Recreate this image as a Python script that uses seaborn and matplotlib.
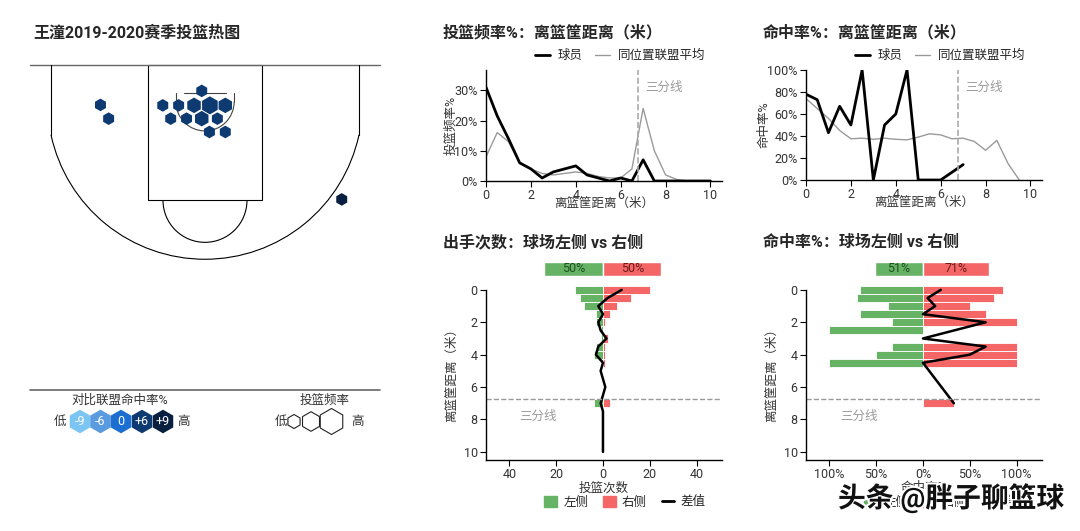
import numpy as np
import pandas as pd
import matplotlib
matplotlib.use("Agg")
import matplotlib.pyplot as plt
import matplotlib.patheffects as pe
from matplotlib.patches import Rectangle, Arc
from matplotlib.lines import Line2D
from matplotlib.patches import Patch
import seaborn as sns

# ---- data ----
# shot chart hexes (metres, x from centre of basket line, y from baseline)
hex_x = [-4.48, -4.13, -0.14, -1.81, -1.13, -0.47, 0.21, 0.87, -1.47, -0.79, -0.14, 0.53, 0.19, 0.87, 5.86]
hex_y = [1.71, 2.30, 1.11, 1.73, 1.73, 1.73, 1.73, 1.73, 2.30, 2.30, 2.30, 2.30, 2.87, 2.87, 5.76]
hex_freq = [1, 1, 1, 1, 1, 2, 3, 2, 1, 1, 2, 1, 1, 1, 1]
hex_diff = [6, 6, 6, 6, 6, 6, 6, 6, 6, 6, 6, 6, 6, 6, 9]

diff_levels = [-9, -6, 0, 6, 9]
diff_labels = ["-9", "-6", "0", "+6", "+9"]
diff_colors = ["#7cc5f2", "#5a9be0", "#1c6fd1", "#0e3a72", "#081f40"]

# distance curves (0 - 10 m, step 0.5)
dist = [0, 0.5, 1, 1.5, 2, 2.5, 3, 3.5, 4, 4.5, 5, 5.5, 6, 6.5, 7, 7.5, 8, 8.5, 9, 9.5, 10]
player_freq = [31, 21.5, 14, 6, 4, 1, 3, 4, 5, 2, 1, 0, 1, 0, 7, 0, 0, 0, 0, 0, 0]
league_freq = [8, 16, 13, 6, 4, 2.5, 2, 2.5, 3, 2.5, 1.5, 1, 1, 4, 24, 10, 2, 0.5, 0, 0, 0]
player_fg = [78, 73, 43, 67, 50, 100, 0, 50, 60, 100, 0, 0, 0, np.nan, 14,
             np.nan, np.nan, np.nan, np.nan, np.nan, np.nan]
league_fg = [74, 65, 56, 45, 37.5, 38, 37, 38, 37, 36.5, 39, 42, 41, 37.5, 38,
             35, 27, 36, 15, 0, np.nan]

# left vs right side
left_cnt = [12, 10, 8, 3, 3, 1, 1, 3, 4, 1, 0, 0, 0, 0, 4, 0, 0, 0, 0, 0, 0]
right_cnt = [20, 12, 6, 3, 1, 0, 2, 1, 1, 1, 0, 0, 0, 0, 3, 0, 0, 0, 0, 0, 0]
diff_cnt = [8, 2, -2, 0, -2, -1, 1.5, -2, -3, 0, -1, 0, 1, 0, -1, 0, 0, 0, 0, 0, 0]
left_pct = [67, 70, 37, 67, 33, 100, np.nan, 33, 50, 100, np.nan, np.nan, np.nan, np.nan, np.nan,
            np.nan, np.nan, np.nan, np.nan, np.nan, np.nan]
right_pct = [86, 76, 50, 67, 100, np.nan, np.nan, 100, 100, 100, np.nan, np.nan, np.nan, np.nan, 33,
             np.nan, np.nan, np.nan, np.nan, np.nan, np.nan]
diff_pct = [19, 5, 13, 0, 67, np.nan, 0, 67, 50, 0, np.nan, np.nan, np.nan, np.nan, 33,
            np.nan, np.nan, np.nan, np.nan, np.nan, np.nan]
share_cnt = [50, 50]
share_pct = [51, 71]

GREEN = "#66b366"
RED = "#f56767"
GRAY = "#9a9a9a"

sns.set_theme(style="white")
plt.rcParams['font.family'] = ['Roboto', 'Noto Sans CJK SC']
plt.rcParams['axes.unicode_minus'] = False

W, H = 1080, 531
fig = plt.figure(figsize=(10.8, 5.31), dpi=100)


def px_axes(x0, y0, x1, y1):
    return fig.add_axes([x0 / W, 1 - y1 / H, (x1 - x0) / W, (y1 - y0) / H])


def style_axes(ax):
    for s in ["top", "right"]:
        ax.spines[s].set_visible(False)
    for s in ["left", "bottom"]:
        ax.spines[s].set_color("black")
        ax.spines[s].set_linewidth(1)
    ax.tick_params(bottom=True, left=True, length=4, width=0.8, labelsize=9,
                   colors="black", labelcolor="#333333", pad=2)


# ---- titles ----
fig.text(33 / W, 1 - 33 / H, "王潼2019-2020赛季投篮热图", fontsize=11.5, weight="bold", va="center")
fig.text(443 / W, 1 - 33 / H, "投篮频率%：离篮筐距离（米）", fontsize=11.5, weight="bold", va="center")
fig.text(763 / W, 1 - 33 / H, "命中率%：离篮筐距离（米）", fontsize=11.5, weight="bold", va="center")
fig.text(443 / W, 1 - 242 / H, "出手次数：球场左侧 vs 右侧", fontsize=11.5, weight="bold", va="center")
fig.text(763 / W, 1 - 242 / H, "命中率%：球场左侧 vs 右侧", fontsize=11.5, weight="bold", va="center")

# ---- court ----
axc = px_axes(30, 65, 380, 275)
axc.set_xlim(-7.5, 7.5)
axc.set_ylim(9, 0)
axc.axis("off")
lc = dict(color="black", lw=0.8, clip_on=False)
axc.plot([-7.5, 7.5], [0, 0], color="#666666", lw=1, clip_on=False)
axc.plot([-6.6, -6.6], [0, 2.99], **lc)
axc.plot([6.6, 6.6], [0, 2.99], **lc)
axc.add_patch(Arc((0, 1.575), 13.5, 13.5, theta1=12.1, theta2=167.9, **lc))
axc.add_patch(Rectangle((-2.45, 0), 4.9, 5.8, fill=False, **lc))
axc.add_patch(Arc((0, 5.8), 3.6, 3.6, theta1=0, theta2=180, **lc))
axc.add_patch(Arc((0, 1.575), 2.5, 2.5, theta1=0, theta2=180, lw=0.8, color="#444444"))
axc.plot([-1.25, -1.25], [1.2, 1.575], color="#444444", lw=0.8)
axc.plot([1.25, 1.25], [1.2, 1.575], color="#444444", lw=0.8)
axc.plot([-0.9, 0.9], [1.2, 1.2], color="#444444", lw=0.8)

cmap = dict(zip(diff_levels, diff_colors))
hex_df = pd.DataFrame({"x": hex_x, "y": hex_y, "freq": hex_freq, "diff": hex_diff})
axc.scatter(hex_df["x"], hex_df["y"], s=40 + 43 * hex_df["freq"],
            c=[cmap[d] for d in hex_df["diff"]], marker="h", linewidths=0, zorder=3)

# ---- court legend ----
axl = px_axes(30, 380, 380, 440)
axl.set_xlim(30, 380)
axl.set_ylim(440, 380)
axl.axis("off")
axl.plot([30, 380], [390, 390], color="#666666", lw=1.2, clip_on=False)
axl.text(120, 400, "对比联盟命中率%", fontsize=9, ha="center", va="center", color="#333333")
lx = [80, 100.5, 121, 142, 163]
axl.scatter(lx, [421.5] * 5, s=290, marker="h", c=diff_colors, linewidths=0)
for x, t in zip(lx, diff_labels):
    axl.text(x, 421.5, t, color="white", fontsize=9, ha="center", va="center")
axl.text(60, 421.5, "低", fontsize=9, ha="center", va="center", color="#333333")
axl.text(184, 421.5, "高", fontsize=9, ha="center", va="center", color="#333333")
axl.text(325, 400, "投篮频率", fontsize=9, ha="center", va="center", color="#333333")
axl.scatter([294, 311, 331.5], [421.5] * 3, s=[102, 199, 350], marker="h",
            facecolors="white", edgecolors="#222222", linewidths=0.8)
axl.text(281, 421.5, "低", fontsize=9, ha="center", va="center", color="#333333")
axl.text(357, 421.5, "高", fontsize=9, ha="center", va="center", color="#333333")

# ---- top distance charts ----
freq_df = pd.DataFrame({"dist": dist, "player": player_freq, "league": league_freq})
fg_df = pd.DataFrame({"dist": dist, "player": player_fg, "league": league_fg})

ax1 = px_axes(486, 70, 721.7, 181)
ax2 = px_axes(806, 70, 1041.7, 180)
for ax, df, top, lab, ticks in [(ax1, freq_df, 36.7, "投篮频率%", [0, 10, 20, 30]),
                                (ax2, fg_df, 100, "命中率%", [0, 20, 40, 60, 80, 100])]:
    style_axes(ax)
    d = df[["dist", "league"]].dropna()
    sns.lineplot(x=d["dist"], y=d["league"], ax=ax, color=GRAY, lw=1, label="同位置联盟平均")
    d = df[["dist", "player"]].dropna()
    sns.lineplot(x=d["dist"], y=d["player"], ax=ax, color="black", lw=2, label="球员")
    ax.axvline(6.75, color="#aaaaaa", ls="--", lw=1.2)
    ax.text(7.1, 0.84, "三分线", transform=ax.get_xaxis_transform(), color=GRAY, fontsize=9, va="center")
    ax.set_xlim(0, 10.5)
    ax.set_ylim(0, top)
    ax.set_xticks([0, 2, 4, 6, 8, 10])
    ax.set_yticks(ticks)
    ax.set_yticklabels([f"{t}%" for t in ticks])
    ax.set_xlabel("离篮筐距离（米）", fontsize=9, labelpad=-4, color="#333333")
    ax.set_ylabel(lab, fontsize=9, labelpad=-2, color="#333333")
    h, l = ax.get_legend_handles_labels()
    ax.legend(h[::-1], l[::-1], loc="center", bbox_to_anchor=(0.57, 1.13), ncol=2, frameon=False,
              fontsize=9, handlelength=1.2, columnspacing=1.0, handletextpad=0.6, borderaxespad=0)

# ---- bottom left/right charts ----
side_df = pd.DataFrame({"dist": dist, "left_cnt": left_cnt, "right_cnt": right_cnt, "diff_cnt": diff_cnt,
                        "left_pct": left_pct, "right_pct": right_pct, "diff_pct": diff_pct})

ax3 = px_axes(486, 285, 721.7, 460)
ax4 = px_axes(806, 285, 1041.7, 460)
panels = [(ax3, "left_cnt", "right_cnt", "diff_cnt", 50, [-40, -20, 0, 20, 40], "投篮次数", -35.7, "{}"),
          (ax4, "left_pct", "right_pct", "diff_pct", 125, [-100, -50, 0, 50, 100], "命中率%", -88, "{}%")]
for ax, lcol, rcol, dcol, lim, ticks, xlab, tx, fmt in panels:
    style_axes(ax)
    ax.barh(side_df["dist"], -side_df[lcol].fillna(0), height=0.5, color=GREEN,
            edgecolor="white", linewidth=0.6)
    ax.barh(side_df["dist"], side_df[rcol].fillna(0), height=0.5, color=RED,
            edgecolor="white", linewidth=0.6)
    d = side_df[["dist", dcol]].dropna()
    ax.plot(d[dcol], d["dist"], color="black", lw=1.8)
    ax.axhline(6.75, color="#999999", ls="--", lw=1)
    ax.text(tx, 7.8, "三分线", color=GRAY, fontsize=9, va="center")
    ax.set_xlim(-lim, lim * 1.015)
    ax.set_ylim(10.5, -0.3)
    ax.spines["left"].set_bounds(10.5, 0)
    ax.set_yticks([0, 2, 4, 6, 8, 10])
    ax.set_xticks(ticks)
    ax.set_xticklabels([fmt.format(abs(t)) for t in ticks])
    ax.set_xlabel(xlab, fontsize=9, labelpad=0, color="#333333")
    ax.set_ylabel("离篮筐距离（米）", fontsize=9, color="#333333")
    handles = [Patch(color=GREEN), Patch(color=RED), Line2D([], [], color="black", lw=2)]
    ax.legend(handles, ["左侧", "右侧", "差值"], loc="center", bbox_to_anchor=(0.59, -0.24), ncol=3,
              frameon=False, fontsize=9, handlelength=1.0, handleheight=1.0, columnspacing=1.2,
              handletextpad=0.5, borderaxespad=0)

# share bars above the side charts
for x0, x1, vals, lim in [(486, 721.7, share_cnt, 100), (806, 1041.7, share_pct, 125)]:
    axt = px_axes(x0, 262, x1, 276)
    axt.barh([0], [-vals[0]], height=1, color=GREEN)
    axt.barh([0], [vals[1]], height=1, color=RED)
    axt.text(-vals[0] / 2, 0, f"{vals[0]}%", ha="center", va="center", fontsize=9, color="#1f4f1f")
    axt.text(vals[1] / 2, 0, f"{vals[1]}%", ha="center", va="center", fontsize=9, color="#6b1a1a")
    axt.set_xlim(-lim, lim * 1.015)
    axt.set_ylim(-0.5, 0.5)
    axt.axis("off")

# watermark
fig.text(838 / W, 1 - 498 / H, "头条 @胖子聊篮球", fontsize=20, color="#111111", va="center",
         weight="bold", path_effects=[pe.withStroke(linewidth=3, foreground="white")])

fig.savefig("out.png", dpi=100)
